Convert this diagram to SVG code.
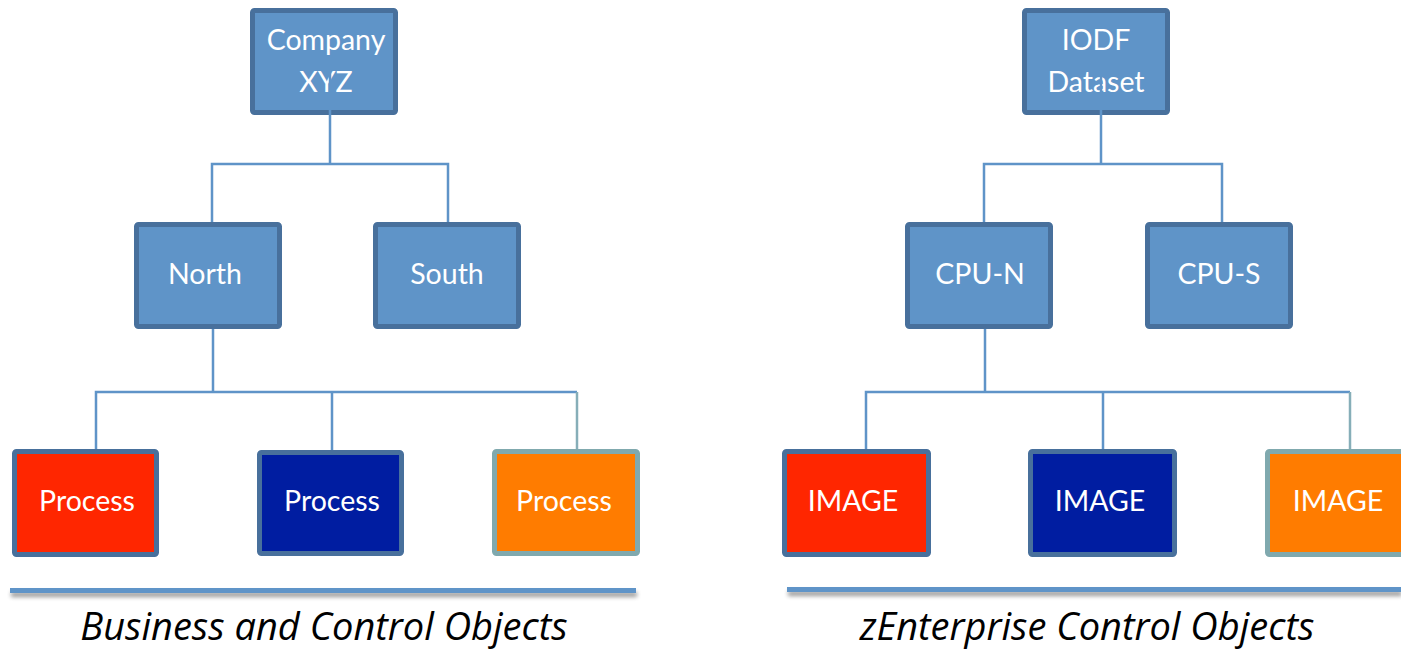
<svg xmlns="http://www.w3.org/2000/svg" width="1401" height="649" viewBox="0 0 1401 649">
  <defs>
    <filter id="barShadow" filterUnits="userSpaceOnUse" x="0" y="570" width="1401" height="40">
      <feGaussianBlur in="SourceAlpha" stdDeviation="2"/>
      <feOffset dx="1" dy="4" result="b"/>
      <feComponentTransfer><feFuncA type="linear" slope="0.4"/></feComponentTransfer>
      <feMerge><feMergeNode/><feMergeNode in="SourceGraphic"/></feMerge>
    </filter>
    <style>
      .box { fill: #5F94C8; stroke: #48709C; stroke-width: 5; }
      .red { fill: #FF2600; stroke: #48709C; stroke-width: 5; }
      .navy { fill: #001DA1; stroke: #48709C; stroke-width: 5; }
      .orange { fill: #FF7C00; stroke: #80A9AE; stroke-width: 5; }
      .lbl { font-family: Lato, "Open Sans", "Liberation Sans", sans-serif; font-size: 28.5px; fill: #FFFFFF; text-anchor: middle; }
      .wire { fill: none; stroke: #5F94C8; stroke-width: 2.5; }
      .wire2 { fill: none; stroke: #86AEB8; stroke-width: 2.5; }
      .bar { fill: #5F94C8; }
      .cap { font-family: "Open Sans", "Liberation Sans", sans-serif; font-style: italic; font-size: 38px; fill: #000000; text-anchor: middle; }
    </style>
  </defs>

  <!-- left tree -->
  <g id="company">
    <rect class="box" x="252.5" y="10.5" width="143" height="102" rx="2"/>
    <text class="lbl" x="326" y="50">Company</text>
    <text class="lbl" x="326" y="92">XYZ</text>
  </g>
  <g id="north">
    <rect class="box" x="136.5" y="224.5" width="143" height="102" rx="2"/>
    <text class="lbl" x="205" y="284">North</text>
  </g>
  <g id="south">
    <rect class="box" x="375.5" y="224.5" width="143" height="102" rx="2"/>
    <text class="lbl" x="447" y="284">South</text>
  </g>
  <g id="process-red">
    <rect class="red" x="14.5" y="451.5" width="142" height="103" rx="2"/>
    <text class="lbl" x="87" y="511">Process</text>
  </g>
  <g id="process-navy">
    <rect class="navy" x="259.5" y="452.5" width="142" height="101" rx="2"/>
    <text class="lbl" x="332" y="511">Process</text>
  </g>
  <g id="process-orange">
    <rect class="orange" x="494.5" y="451.5" width="143" height="102" rx="2"/>
    <text class="lbl" x="564" y="511">Process</text>
  </g>

  <!-- right tree -->
  <g id="iodf">
    <rect class="box" x="1024.5" y="10.5" width="143" height="102" rx="2"/>
    <text class="lbl" x="1096" y="50">IODF</text>
    <text class="lbl" x="1096" y="92">Dataset</text>
  </g>
  <g id="cpu-n">
    <rect class="box" x="907.5" y="224.5" width="143" height="102" rx="2"/>
    <text class="lbl" x="980" y="284">CPU-N</text>
  </g>
  <g id="cpu-s">
    <rect class="box" x="1147.5" y="224.5" width="143" height="102" rx="2"/>
    <text class="lbl" x="1219" y="284">CPU-S</text>
  </g>
  <g id="image-red">
    <rect class="red" x="784.5" y="451.5" width="144" height="103" rx="2"/>
    <text class="lbl" x="853" y="511">IMAGE</text>
  </g>
  <g id="image-navy">
    <rect class="navy" x="1030.5" y="451.5" width="144" height="103" rx="2"/>
    <text class="lbl" x="1100" y="511">IMAGE</text>
  </g>
  <g id="image-orange">
    <rect class="orange" x="1267.5" y="451.5" width="144" height="103" rx="2"/>
    <text class="lbl" x="1338" y="511">IMAGE</text>
  </g>

  <!-- connectors -->
  <g id="connectors">
    <path class="wire" d="M330 62 V164 M212 222 V164 H448 V222"/>
    <path class="wire" d="M213 329 V392 M96 449 V392 H577 M332 392 V450"/>
    <path class="wire2" d="M577 392 V449"/>
    <path class="wire" d="M1101 62 V164 M984 222 V164 H1222 V222"/>
    <path class="wire" d="M985 329 V392 M866 449 V392 H1350 M1103 392 V449"/>
    <path class="wire2" d="M1350 392 V449"/>
  </g>

  <!-- baselines and captions -->
  <g id="footer-left">
    <rect class="bar" x="10" y="588" width="626" height="5" filter="url(#barShadow)"/>
    <text class="cap" x="324" y="640">Business and Control Objects</text>
  </g>
  <g id="footer-right">
    <rect class="bar" x="787" y="587" width="614" height="5" filter="url(#barShadow)"/>
    <text class="cap" x="1087" y="640">zEnterprise Control Objects</text>
  </g>
</svg>
